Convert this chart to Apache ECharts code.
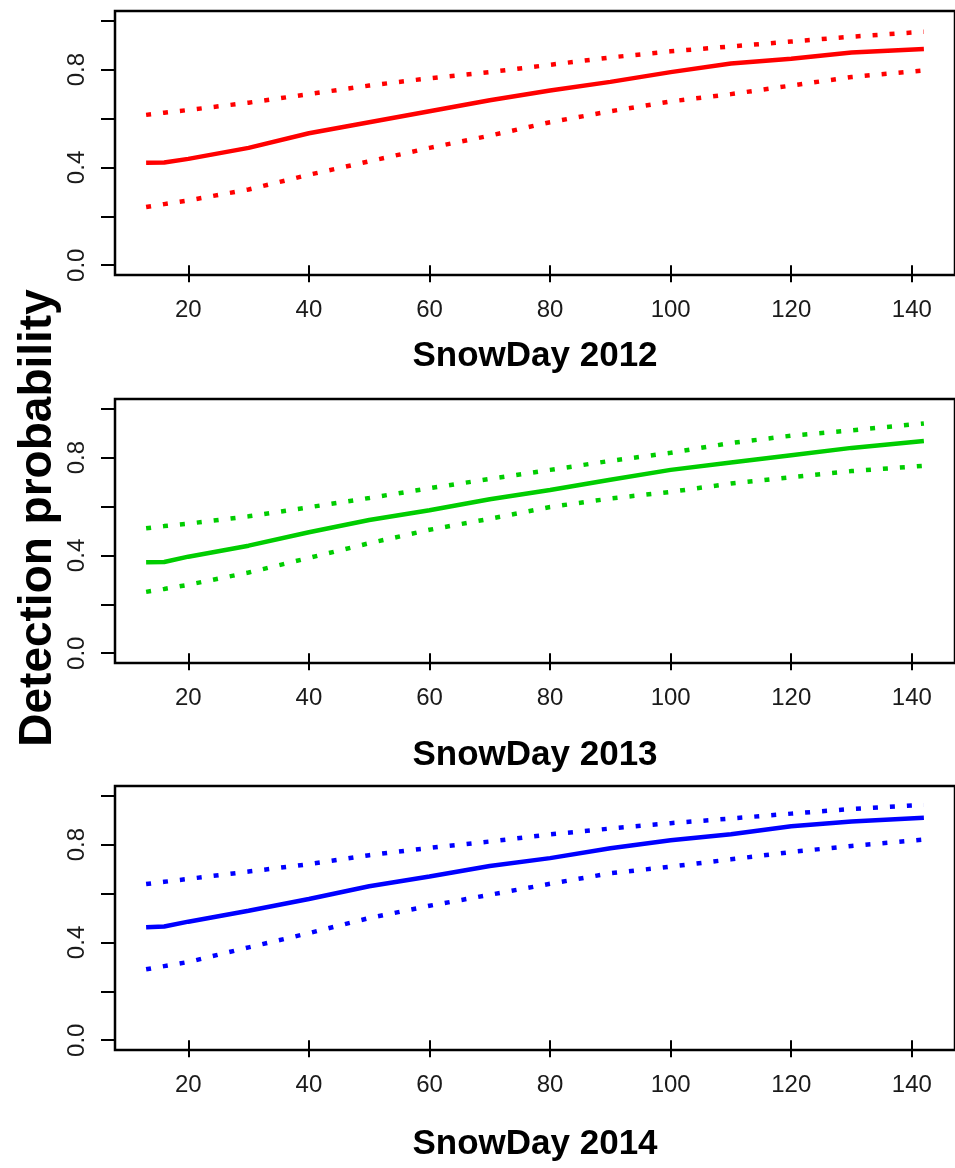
<!DOCTYPE html>
<html>
<head>
<meta charset="utf-8">
<script src="https://cdn.jsdelivr.net/npm/echarts@6/dist/echarts.min.js"></script>
<style>
  html, body { margin: 0; padding: 0; background: #fff; }
  #main { width: 955px; height: 1168px; }
</style>
</head>
<body>
<div id="main"></div>
<script>
// snow day values (shared by the three panels)
var snowDays = [13, 16, 20, 30, 40, 50, 60, 70, 80, 90, 100, 110, 120, 130, 142];

var mean2012  = [0.419, 0.420, 0.435, 0.480, 0.540, 0.585, 0.630, 0.675, 0.715, 0.750, 0.790, 0.825, 0.845, 0.870, 0.885];
var upper2012 = [0.615, 0.624, 0.635, 0.665, 0.700, 0.735, 0.765, 0.790, 0.820, 0.850, 0.875, 0.895, 0.915, 0.935, 0.955];
var lower2012 = [0.238, 0.250, 0.265, 0.310, 0.370, 0.425, 0.480, 0.530, 0.585, 0.630, 0.670, 0.700, 0.735, 0.770, 0.797];

var mean2013  = [0.372, 0.373, 0.395, 0.440, 0.495, 0.545, 0.585, 0.630, 0.668, 0.710, 0.750, 0.780, 0.810, 0.840, 0.868];
var upper2013 = [0.511, 0.520, 0.530, 0.560, 0.597, 0.635, 0.675, 0.713, 0.750, 0.787, 0.820, 0.860, 0.890, 0.912, 0.940];
var lower2013 = [0.251, 0.263, 0.280, 0.330, 0.390, 0.450, 0.505, 0.550, 0.598, 0.633, 0.660, 0.694, 0.720, 0.745, 0.767];

var mean2014  = [0.462, 0.465, 0.485, 0.530, 0.578, 0.630, 0.670, 0.713, 0.745, 0.785, 0.818, 0.843, 0.875, 0.895, 0.910];
var upper2014 = [0.639, 0.648, 0.660, 0.690, 0.720, 0.757, 0.787, 0.813, 0.842, 0.866, 0.888, 0.907, 0.927, 0.946, 0.963];
var lower2014 = [0.290, 0.303, 0.320, 0.380, 0.438, 0.500, 0.550, 0.595, 0.640, 0.683, 0.710, 0.740, 0.770, 0.795, 0.821];

var xTicks = [20, 40, 60, 80, 100, 120, 140];
var yTicks = [0, 0.2, 0.4, 0.6, 0.8, 1.0];
var yLabels = [0, 0.4, 0.8];

var panels = [
    { title: 'SnowDay 2012', color: '#ff0000', mean: mean2012, upper: upper2012, lower: lower2012, top: 11, gap: 64 },
    { title: 'SnowDay 2013', color: '#00cd00', mean: mean2013, upper: upper2013, lower: lower2013, top: 399, gap: 75 },
    { title: 'SnowDay 2014', color: '#0000ff', mean: mean2014, upper: upper2014, lower: lower2014, top: 786, gap: 77 }
];

function pairs(xs, ys) {
    var out = [];
    for (var i = 0; i < xs.length; i++) out.push([xs[i], ys[i]]);
    return out;
}

var font = "'Liberation Sans', Arial, sans-serif";

var option = {
    backgroundColor: '#fff',
    animation: false,
    grid: [],
    xAxis: [],
    yAxis: [],
    series: [],
    graphic: [{
        type: 'text',
        x: 38,
        y: 518,
        rotation: Math.PI / 2,
        style: {
            text: 'Detection probability',
            font: 'bold 46px ' + font,
            fill: '#000',
            align: 'center',
            verticalAlign: 'middle'
        }
    }]
};

panels.forEach(function (p, i) {
    option.grid.push({
        left: 115,
        top: p.top,
        width: 850,
        height: 264,
        show: true,
        borderColor: '#000',
        borderWidth: 2.5,
        backgroundColor: 'transparent'
    });
    option.xAxis.push({
        type: 'value',
        gridIndex: i,
        min: 7.84,
        max: 147.16,
        name: p.title,
        nameLocation: 'middle',
        nameGap: p.gap,
        nameTextStyle: { fontFamily: font, fontWeight: 'bold', fontSize: 35, color: '#000' },
        axisLine: { show: false },
        splitLine: { show: false },
        axisTick: { show: true, customValues: xTicks, length: 17, lineStyle: { color: '#000', width: 2 } },
        axisLabel: { customValues: xTicks, margin: 23, fontFamily: font, fontSize: 24, color: '#1a1a1a' }
    });
    option.yAxis.push({
        type: 'value',
        gridIndex: i,
        min: -0.04,
        max: 1.04,
        axisLine: { show: false },
        splitLine: { show: false },
        axisTick: { show: true, customValues: yTicks, length: 14, lineStyle: { color: '#000', width: 2 } },
        axisLabel: {
            customValues: yLabels,
            rotate: 90,
            margin: 26,
            fontFamily: font,
            fontSize: 24,
            color: '#1a1a1a',
            formatter: function (v) { return v.toFixed(1); }
        }
    });
    option.series.push({
        type: 'line',
        xAxisIndex: i,
        yAxisIndex: i,
        data: pairs(snowDays, p.mean),
        showSymbol: false,
        lineStyle: { color: p.color, width: 4.5 }
    });
    [p.upper, p.lower].forEach(function (band) {
        option.series.push({
            type: 'line',
            xAxisIndex: i,
            yAxisIndex: i,
            data: pairs(snowDays, band),
            showSymbol: false,
            lineStyle: { color: p.color, width: 4.5, type: [5, 12], cap: 'butt' }
        });
    });
});

var myChart = echarts.init(document.getElementById('main'));
myChart.setOption(option);
</script>
</body>
</html>
